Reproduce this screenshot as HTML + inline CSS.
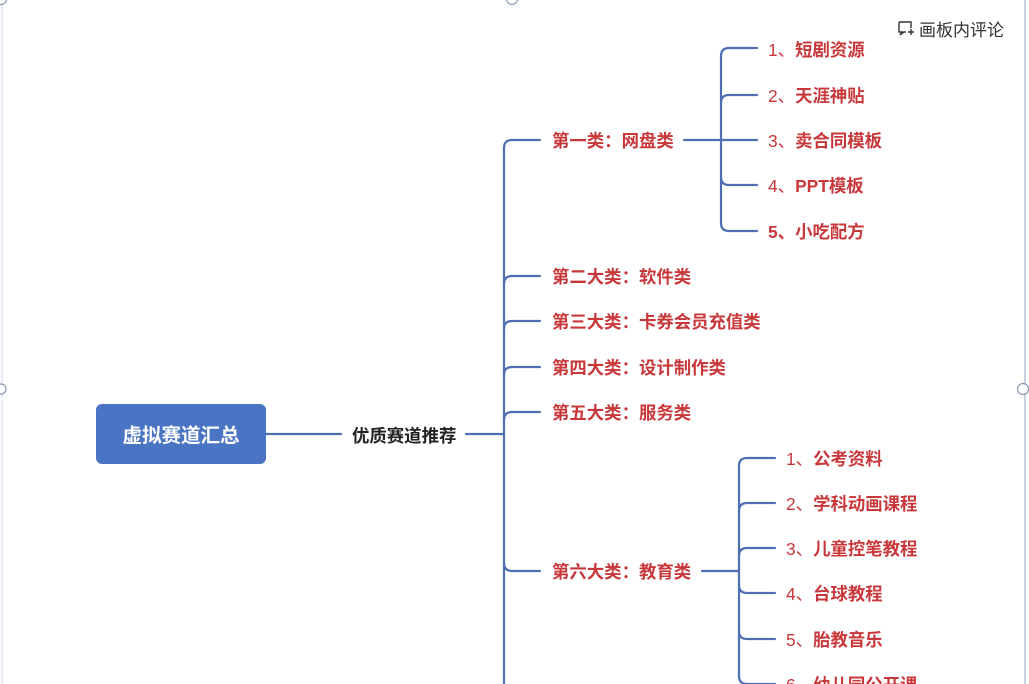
<!DOCTYPE html>
<html><head><meta charset="utf-8">
<style>
html,body{margin:0;padding:0;background:#fff;width:1029px;height:684px;overflow:hidden;}
svg{display:block;}
text{font-family:"Liberation Sans","Noto Sans CJK SC",sans-serif;}
</style></head>
<body>
<svg width="1029" height="684" viewBox="0 0 1029 684" xmlns="http://www.w3.org/2000/svg">
<rect width="1029" height="684" fill="#fff"/>
<!-- selection frame -->
<line x1="2" y1="0" x2="2" y2="684" stroke="#dfe6f2" stroke-width="1.5"/>
<line x1="1025" y1="0" x2="1025" y2="684" stroke="#c9d3e6" stroke-width="2"/>
<circle cx="1" cy="389" r="5" fill="#fff" stroke="#8a97b4" stroke-width="1.2"/>
<circle cx="1023" cy="389" r="5.5" fill="#fff" stroke="#8a97b4" stroke-width="1.2"/>
<circle cx="512" cy="-1" r="5.5" fill="#fff" stroke="#8a97b4" stroke-width="1.2"/>
<circle cx="1" cy="-1" r="5.5" fill="#fff" stroke="#8a97b4" stroke-width="1.2"/>

<!-- comment button -->
<g stroke="#333" stroke-width="1.4" fill="none">
<path d="M899,22 h12 v6 M899,22 v10 h3 l-2,3 l4,-3 h2"/>
<path d="M908,32 h6 M911,29 v6"/>
</g>
<text x="919" y="36" font-size="17" fill="#333">画板内评论</text>

<g fill="none" stroke="#4e70b3" stroke-width="2.2" stroke-linecap="round">
<!-- root connectors -->
<line x1="266" y1="434" x2="341" y2="434"/>
<line x1="466" y1="434" x2="504" y2="434"/>
<!-- trunk -->
<path d="M540,140 H512 Q504,140 504,148 V700"/>
<path d="M504,284 Q504,276 512,276 H540"/>
<path d="M504,329 Q504,321 512,321 H540"/>
<path d="M504,375 Q504,367 512,367 H540"/>
<path d="M504,420 Q504,412 512,412 H540"/>
<path d="M504,563 Q504,571 512,571 H540"/>
<!-- 网盘类 subtree -->
<line x1="684" y1="140" x2="757" y2="140"/>
<path d="M757,48 H729 Q721,48 721,56 V223 Q721,231 729,231 H757"/>
<path d="M721,103 Q721,95 729,95 H757"/>
<path d="M721,177 Q721,185 729,185 H757"/>
<!-- 教育类 subtree -->
<line x1="702" y1="571" x2="739" y2="571"/>
<path d="M775,458 H747 Q739,458 739,466 V676 Q739,684 747,684 H775"/>
<path d="M739,511 Q739,503 747,503 H775"/>
<path d="M739,556 Q739,548 747,548 H775"/>
<path d="M739,585 Q739,593 747,593 H775"/>
<path d="M739,631 Q739,639 747,639 H775"/>
</g>

<!-- root -->
<rect x="96" y="404" width="170" height="60" rx="6" fill="#4a74c4"/>
<text x="181" y="442" font-size="19.5" font-weight="bold" fill="#fff" text-anchor="middle">虚拟赛道汇总</text>
<text x="352" y="442" font-size="17.4" font-weight="bold" fill="#222">优质赛道推荐</text>

<g font-size="17.4" font-weight="bold" fill="#c8383b">
<text x="552" y="147">第一类：网盘类</text>
<text x="552" y="283">第二大类：软件类</text>
<text x="552" y="328">第三大类：卡券会员充值类</text>
<text x="552" y="374">第四大类：设计制作类</text>
<text x="552" y="419">第五大类：服务类</text>
<text x="552" y="578">第六大类：教育类</text>

<text x="768" y="56"><tspan font-weight="normal">1、</tspan>短剧资源</text>
<text x="768" y="102"><tspan font-weight="normal">2、</tspan>天涯神贴</text>
<text x="768" y="147"><tspan font-weight="normal">3、</tspan>卖合同模板</text>
<text x="768" y="192"><tspan font-weight="normal">4、</tspan>PPT模板</text>
<text x="768" y="238">5、小吃配方</text>

<text x="786" y="465"><tspan font-weight="normal">1、</tspan>公考资料</text>
<text x="786" y="510"><tspan font-weight="normal">2、</tspan>学科动画课程</text>
<text x="786" y="555"><tspan font-weight="normal">3、</tspan>儿童控笔教程</text>
<text x="786" y="600"><tspan font-weight="normal">4、</tspan>台球教程</text>
<text x="786" y="646"><tspan font-weight="normal">5、</tspan>胎教音乐</text>
<text x="786" y="691"><tspan font-weight="normal">6、</tspan>幼儿园公开课</text>
</g>
</svg>
</body></html>
